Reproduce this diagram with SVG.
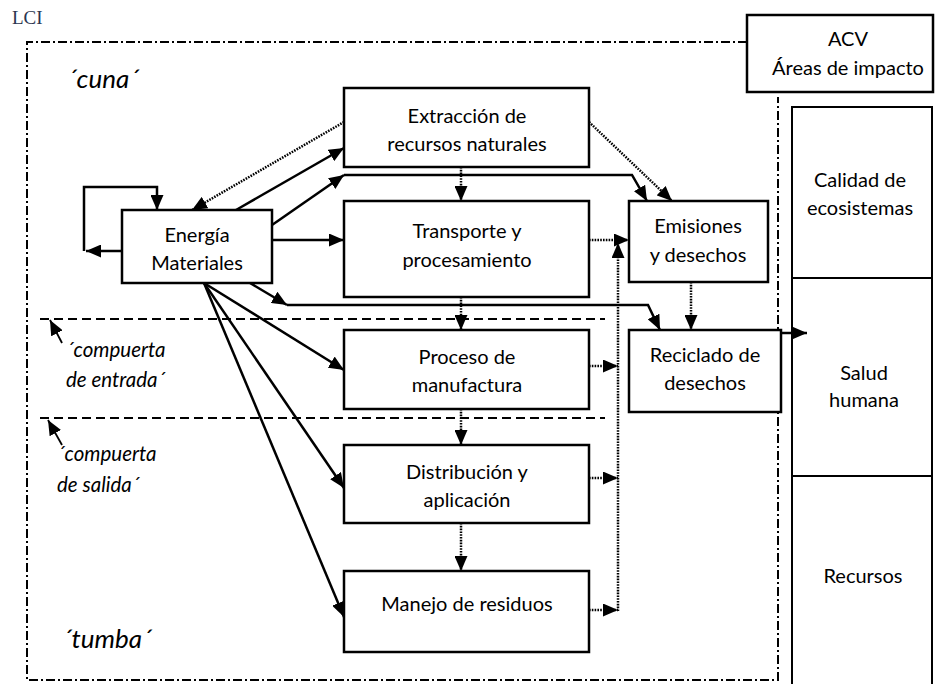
<svg xmlns="http://www.w3.org/2000/svg" width="937" height="684" viewBox="0 0 937 684">
  <defs>
    <marker id="arrow" markerUnits="userSpaceOnUse" markerWidth="15" markerHeight="13" refX="15" refY="6.5" orient="auto">
      <path d="M0,0 L15,6.5 L0,13 z" fill="#000"/>
    </marker>
  </defs>
  <style>
    .box{fill:#fff;stroke:#000;stroke-width:2.5}
    .rbox{fill:#fff;stroke:#000;stroke-width:2}
    .t{font-family:Lato,"Liberation Sans",sans-serif;font-size:20px;text-anchor:middle;fill:#000}
    .it{font-family:Lato,"Liberation Sans",sans-serif;font-style:italic;font-size:20.5px;fill:#000}
    .big{font-size:26px}
    .solid{fill:none;stroke:#000;stroke-width:2.5}
    .dot{fill:none;stroke:#000;stroke-width:2.5;stroke-dasharray:1.6 1.2}
    .gate{fill:none;stroke:#000;stroke-width:2;stroke-dasharray:9 5}
    .frame{fill:none;stroke:#000;stroke-width:2;stroke-dasharray:9 3 2 3}
    .thin{fill:none;stroke:#000;stroke-width:1.8}
  </style>

  <rect width="937" height="684" fill="#fff"/>

  <!-- LCI boundary -->
  <text x="12" y="24" font-family="'Liberation Serif',serif" font-size="19" fill="#2a3550">LCI</text>
  <path class="frame" d="M747,42 H27 V680 H778 V97"/>

  <!-- stage gates -->
  <g id="gates">
    <line class="gate" x1="40" y1="319" x2="605" y2="319"/>
    <line class="gate" x1="40" y1="418" x2="605" y2="418"/>
    <line class="thin" x1="62" y1="343" x2="50" y2="320" marker-end="url(#arrow)"/>
    <line class="thin" x1="62" y1="445" x2="48" y2="420" marker-end="url(#arrow)"/>
  </g>

  <!-- labels -->
  <text class="it big" x="67" y="88">´cuna´</text>
  <text class="it" x="66" y="357">´compuerta</text>
  <text class="it" x="66" y="387">de entrada´</text>
  <text class="it" x="57" y="461">´compuerta</text>
  <text class="it" x="57" y="492">de salida´</text>
  <text class="it big" x="62" y="648">´tumba´</text>

  <g id="energia">
    <rect class="box" x="122" y="210" width="150" height="73"/>
    <text class="t" x="197" y="242">Energía</text>
    <text class="t" x="197" y="270">Materiales</text>
  </g>
  <g id="extraccion">
    <rect class="box" x="344" y="88" width="245" height="79"/>
    <text class="t" x="467" y="123">Extracción de</text>
    <text class="t" x="467" y="151">recursos naturales</text>
  </g>
  <g id="transporte">
    <rect class="box" x="344" y="201" width="245" height="96"/>
    <text class="t" x="467" y="238">Transporte y</text>
    <text class="t" x="467" y="267">procesamiento</text>
  </g>
  <g id="proceso">
    <rect class="box" x="344" y="330" width="245" height="79"/>
    <text class="t" x="467" y="364">Proceso de</text>
    <text class="t" x="467" y="392">manufactura</text>
  </g>
  <g id="distribucion">
    <rect class="box" x="344" y="445" width="245" height="78"/>
    <text class="t" x="467" y="479">Distribución y</text>
    <text class="t" x="467" y="507">aplicación</text>
  </g>
  <g id="manejo">
    <rect class="box" x="344" y="571" width="245" height="81"/>
    <text class="t" x="467" y="611">Manejo de residuos</text>
  </g>
  <g id="emisiones">
    <rect class="box" x="629" y="201" width="139" height="81"/>
    <text class="t" x="698" y="233">Emisiones</text>
    <text class="t" x="698" y="262">y desechos</text>
  </g>
  <g id="reciclado">
    <rect class="box" x="629" y="330" width="152" height="82"/>
    <text class="t" x="705" y="362">Reciclado de</text>
    <text class="t" x="705" y="390">desechos</text>
  </g>

  <g id="acv">
    <rect class="box" x="747" y="15" width="186" height="77"/>
    <text class="t" x="848" y="46">ACV</text>
    <text class="t" x="848" y="75">Áreas de impacto</text>
  </g>
  <g id="calidad">
    <rect class="rbox" x="792" y="107" width="140" height="171"/>
    <text class="t" x="860" y="187">Calidad de</text>
    <text class="t" x="860" y="215">ecosistemas</text>
  </g>
  <g id="salud">
    <rect class="rbox" x="792" y="278" width="140" height="198"/>
    <text class="t" x="864" y="380">Salud</text>
    <text class="t" x="864" y="407">humana</text>
  </g>
  <g id="recursos">
    <rect class="rbox" x="792" y="476" width="140" height="220"/>
    <text class="t" x="863" y="583">Recursos</text>
  </g>

  <!-- connectors -->
  <g id="connectors">
    <!-- self loop of Energía Materiales -->
    <path class="solid" d="M122,251 H86" marker-end="url(#arrow)"/>
    <path class="solid" d="M84,251 V187 H157 V210" marker-end="url(#arrow)"/>
    <!-- Energía Materiales outputs -->
    <path class="solid" d="M236,210 L344,148" marker-end="url(#arrow)"/>
    <path class="solid" d="M272,225 L344,175" marker-end="url(#arrow)"/>
    <path class="solid" d="M344,175 H632 L647,201" marker-end="url(#arrow)"/>
    <path class="solid" d="M272,240 H344" marker-end="url(#arrow)"/>
    <path class="solid" d="M250,283 L287,305" marker-end="url(#arrow)"/>
    <path class="solid" d="M287,305 H648 L660,330" marker-end="url(#arrow)"/>
    <path class="solid" d="M204,283 L344,370" marker-end="url(#arrow)"/>
    <path class="solid" d="M204,283 L344,488" marker-end="url(#arrow)"/>
    <path class="solid" d="M204,283 L344,617" marker-end="url(#arrow)"/>
    <!-- Extracción feedback and emissions -->
    <path class="dot" d="M344,122 L192,210" marker-end="url(#arrow)"/>
    <path class="dot" d="M589,122 L672,201" marker-end="url(#arrow)"/>
    <!-- chain of stages -->
    <path class="dot" d="M461,167 V201" marker-end="url(#arrow)"/>
    <path class="dot" d="M461,297 V330" marker-end="url(#arrow)"/>
    <path class="dot" d="M461,409 V445" marker-end="url(#arrow)"/>
    <path class="dot" d="M461,523 V571" marker-end="url(#arrow)"/>
    <!-- emissions collector -->
    <path class="dot" d="M589,240 H629" marker-end="url(#arrow)"/>
    <path class="dot" d="M618,611 V243" marker-end="url(#arrow)"/>
    <path class="dot" d="M589,366 H618" marker-end="url(#arrow)"/>
    <path class="dot" d="M589,478 H618" marker-end="url(#arrow)"/>
    <path class="dot" d="M589,610 H618" marker-end="url(#arrow)"/>
    <path class="dot" d="M691,282 V330" marker-end="url(#arrow)"/>
    <!-- to impact areas -->
    <path class="solid" d="M781,333 H807" marker-end="url(#arrow)"/>
  </g>
</svg>
